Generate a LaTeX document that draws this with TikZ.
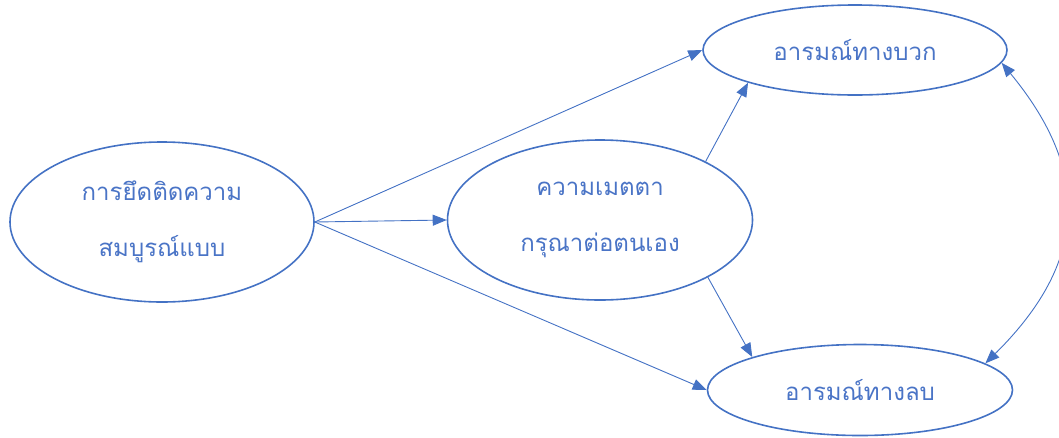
\documentclass[tikz,border=0pt]{standalone}
\usepackage{fontspec}
\newfontfamily\thaifont[Script=Thai]{Loma}
\usetikzlibrary{shapes.geometric,arrows.meta}
\definecolor{accent}{HTML}{4472C4}
\definecolor{txt}{HTML}{4A74C6}
\begin{document}
\begin{tikzpicture}[x=1pt,y=-1pt,
  oval/.style={ellipse,draw=accent,line width=1.6pt,inner sep=0pt,align=center,
    font=\thaifont\fontsize{24}{56}\selectfont,text=txt},
  arr/.style={draw=accent,line width=0.9pt,-{Triangle[length=14pt,width=11pt]}},
  darr/.style={draw=accent,line width=0.9pt,{Triangle[length=14pt,width=11pt]}-{Triangle[length=14pt,width=11pt]}}]
\useasboundingbox (0,0) rectangle (1059,437);
\node[oval,minimum width=304pt,minimum height=160pt] (p) at (162,222) {การยึดติดความ\\สมบูรณ์แบบ};
\node[oval,minimum width=305pt,minimum height=160pt] (m) at (600,220) {ความเมตตา\\กรุณาต่อตนเอง};
\node[oval,minimum width=304pt,minimum height=90pt] (tr) at (855,50) {อารมณ์ทางบวก};
\node[oval,minimum width=305pt,minimum height=91pt] (br) at (860,390) {อารมณ์ทางลบ};
\draw[arr] (p.east) -- (tr.west);
\draw[arr] (p.east) -- (m.west);
\draw[arr] (p.east) -- (br.west);
\draw[arr] (m.29) -- (tr.197);
\draw[arr] (m.332) -- (br.163);
\draw[darr] (tr.355) .. controls (1090,170) and (1090,260) .. (br.12);
\end{tikzpicture}
\end{document}
